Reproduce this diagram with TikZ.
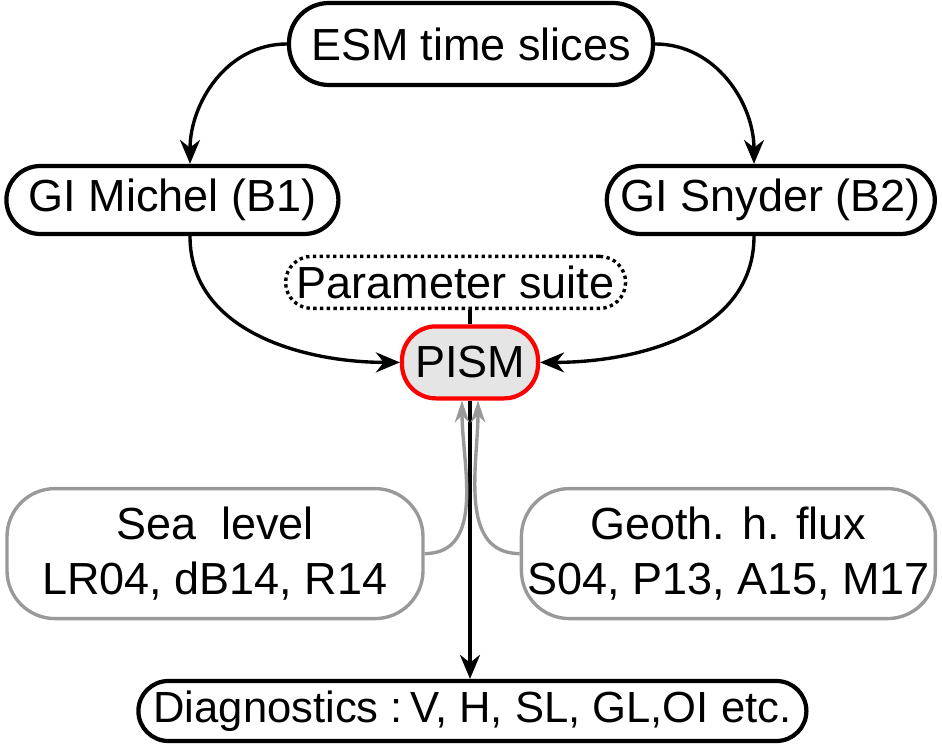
\documentclass[tikz,border=0pt]{standalone}
\usepackage{fontspec}
\setmainfont{Liberation Sans}
\usetikzlibrary{arrows.meta}
\begin{document}
\begin{tikzpicture}[every node/.style={font=\fontsize{32}{39}\selectfont, align=center, inner sep=0pt},
		box/.style={draw, line width=3pt, rounded corners=0.85cm},
		inbox/.style={draw=black!40, line width=2.4pt, rounded corners=1.2cm},
		link/.style={line width=2.4pt, -{Stealth[length=0.6cm,width=0.5cm]}},
		feed/.style={draw=black!40, line width=2.4pt, -{Stealth[length=0.55cm,width=0.36cm]}}]
					\useasboundingbox (0,0) rectangle (23.55,18.65);
					\node[box, minimum width=9.1cm, minimum height=2.05cm, rounded corners=1cm] (esm) at (11.775,17.55) {ESM time slices};
					\node[box, minimum width=8.3cm, minimum height=1.7cm] (michel) at (4.31,13.65) {GI Michel (B1)};
					\node[box, minimum width=8.2cm, minimum height=1.7cm] (snyder) at (19.27,13.65) {GI Snyder (B2)};
					\node[box, dash pattern=on 2.4pt off 2.4pt, line width=2.4pt, rounded corners=0.65cm, minimum width=8.5cm, minimum height=1.3cm] (param) at (11.39,11.59) {Parameter suite};
					\node[box, draw=red, fill=black!10, minimum width=3.4cm, minimum height=1.8cm] (pism) at (11.75,9.59) {PISM};
					\node[inbox, minimum width=10.4cm, minimum height=3.25cm] (sea) at (5.375,4.81) {Sea\ \ level\\LR04, dB14, R14};
					\node[inbox, minimum width=10.35cm, minimum height=3.25cm] (geo) at (18.21,4.81) {Geoth. h. flux\\S04, P13, A15, M17};
					\node[box, rounded corners=0.75cm, minimum width=16.7cm, minimum height=1.5cm, font=\fontsize{31}{37}\selectfont] (diag) at (11.81,0.875) {Diagnostics :\,V, H, SL, GL,OI etc.};
					\draw[link] (esm.west) to[out=180,in=90] ([xshift=0.44cm]michel.north);
					\draw[link] (esm.east) to[out=0,in=90] ([xshift=-0.42cm]snyder.north);
					\draw[link] ([xshift=0.44cm]michel.south) to[out=-90,in=180] (pism.west);
					\draw[link] ([xshift=-0.42cm]snyder.south) to[out=-90,in=0] (pism.east);
					\draw[line width=2.4pt] (param.south -| pism.north) -- (pism.north);
					\draw[link] (pism.south) -- (pism.south |- diag.north);
					\draw[feed] (sea.east) to[out=0,in=-90] ([xshift=-0.2cm]pism.south);
					\draw[feed] (geo.west) to[out=180,in=-90] ([xshift=0.2cm]pism.south);
				\end{tikzpicture}
\end{document}
